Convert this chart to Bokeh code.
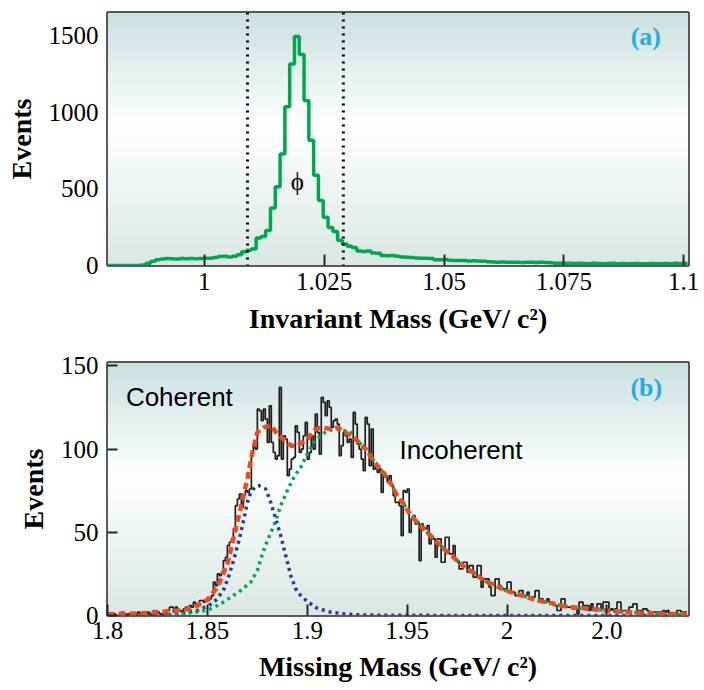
import numpy as np
from bokeh.plotting import figure
from bokeh.layouts import column
from bokeh.models import Span, FixedTicker, Label, Range1d
from bokeh.embed import file_html
from bokeh.resources import INLINE

# ---------------- data: panel (a) invariant mass ----------------
inv_bin_start = 0.9798
inv_bin_width = 0.001
inv_counts = [
    0, 0, 0, 0, 0, 0, 0, 3, 15, 28,
    38, 43, 45, 44, 43, 45, 44, 45, 44, 46,
    48, 47, 52, 58, 60, 56, 60, 70, 90, 100,
    108, 180, 190, 228, 375, 515, 728, 1037, 1315, 1495,
    1378, 1078, 818, 590, 424, 315, 248, 222, 165, 140,
    125, 118,
    95, 92, 94, 82, 80, 66, 64, 66, 60, 55,
    54, 52, 49, 48, 48, 46, 38, 37, 39, 34,
    33, 32, 33, 30, 31, 29, 28, 24, 23, 22,
    23, 22, 21, 22, 20, 22, 21, 20, 21, 19,
    18, 15, 14, 15, 14, 13, 14, 13, 12, 14,
    13, 12, 13, 14, 12, 13, 12, 11, 13, 12,
    12, 13, 12, 11, 13, 12, 14, 13, 14,
]
inv_cuts = [1.009, 1.029]
inv_xticks = [1.0, 1.025, 1.05, 1.075, 1.1]
inv_xlabels = ["1", "1.025", "1.05", "1.075", "1.1"]
inv_yticks = [0, 500, 1000, 1500]

# ---------------- data: panel (b) missing mass ----------------
mm_bin_start = 1.800
mm_bin_width = 0.001
mm_counts = [
    0, 1, 0, 1, 0, 0, 0, 2, 1, 0,
    1, 0, 0, 1, 0, 2, 1, 0, 1, 1,
    2, 1, 0, 3, 1, 2, 1, 0, 2, 1,
    3, 5, 5, 2, 5, 3, 3, 2, 4, 5,
    4, 6, 5, 8, 7, 6, 9, 9, 8, 9,
    9, 10, 12, 20, 18, 25, 24, 26, 33, 35,
    42, 44, 46, 52, 66, 70, 73, 65, 72, 75,
    74, 76, 98, 102, 100, 124, 123, 117, 124, 118,
    104, 126, 104, 98, 94, 96, 137, 94, 108, 106,
    84, 88, 94, 95, 114, 110, 98, 100, 108, 116,
    94, 98, 108, 100, 121, 110, 97, 131, 128, 120,
    129, 125, 113, 117, 118, 115, 96, 102, 110, 108,
    104, 106, 95, 122, 115, 103, 100, 94, 87, 119,
    115, 90, 112, 88, 90, 86, 88, 74, 86, 84,
    80, 84, 78, 72, 68, 68, 66, 48, 75, 74,
    76, 50, 58, 60, 55, 56, 33, 55, 53, 52,
    54, 43, 46, 46, 35, 46, 46, 32, 32, 47,
    47, 37, 37, 42, 33, 33, 28, 28, 32, 32,
    26, 30, 30, 23, 23, 30, 30, 17, 22, 22,
    22, 17, 12, 12, 22, 22, 18, 16, 16, 16,
    20, 20, 14, 14, 12, 12, 15, 15, 12, 12,
    14, 11, 11, 11, 15, 15, 10, 10, 8, 8,
    10, 8, 8, 6, 6, 3, 3, 10, 10, 5,
    5, 5, 5, 4, 4, 1, 8, 8, 6, 6,
    6, 3, 7, 3, 3, 7, 7, 4, 8, 8,
    8, 3, 4, 3, 4, 8, 8, 3, 3, 3,
    3, 5, 5, 7, 7, 3, 3, 3, 4, 4,
    3, 2, 2, 2, 2, 2, 2, 2, 3, 2,
    3, 1, 1, 1, 1, 3, 3, 2, 2, 2,
]

fit_total_x = [1.800, 1.810, 1.820, 1.830, 1.835, 1.840, 1.845, 1.850, 1.855, 1.860,
               1.865, 1.870, 1.8725, 1.875, 1.878, 1.882, 1.885, 1.888, 1.892, 1.895,
               1.900, 1.9042, 1.9075, 1.9117, 1.915, 1.9192, 1.9233, 1.9267, 1.930, 1.9325,
               1.9358, 1.9392, 1.9425, 1.945, 1.9483, 1.9508, 1.9542, 1.960, 1.9642, 1.9683,
               1.9725, 1.9758, 1.980, 1.9842, 1.9883, 1.9942, 1.9992, 2.005, 2.010, 2.015,
               2.020, 2.025, 2.0317, 2.0383, 2.045, 2.0517, 2.0583, 2.065, 2.0717, 2.0783, 2.090]
fit_total_y = [0.8, 1.0, 1.5, 2.5, 3.0, 3.8, 6, 9.5, 17, 31,
               56, 82, 98, 110, 113, 114, 109, 106, 102, 102,
               106, 112, 113, 112, 113, 110, 107, 103, 99, 94,
               89, 84, 78, 72, 67, 62, 57, 50, 45, 40,
               36, 32, 28, 25, 21, 18, 15, 13, 11, 9,
               8, 6.5, 5, 4.4, 3.6, 2.8, 2.1, 1.7, 1.3, 1.0, 0.8]

fit_coh_x = [1.820, 1.830, 1.8367, 1.845, 1.8508, 1.855, 1.8583, 1.8608, 1.8633, 1.866,
             1.8683, 1.870, 1.8717, 1.874, 1.8758, 1.8792, 1.8817, 1.8842, 1.8867, 1.8892,
             1.8917, 1.8942, 1.8967, 1.900, 1.905, 1.9117, 1.9183, 1.925, 1.935, 1.950,
             2.000, 2.090]
fit_coh_y = [0.0, 0.4, 1.0, 3, 6, 10, 16, 24, 34, 46,
             58, 68, 74, 77.5, 78, 76, 68, 58, 48, 36,
             24, 16, 12, 8.4, 4.4, 2, 1, 0.4, 0.2, 0.1,
             0, 0]

fit_inc_x = [1.830, 1.8367, 1.8467, 1.8517, 1.8567, 1.8617, 1.8667, 1.8717, 1.875, 1.8775,
             1.880, 1.8833, 1.8867, 1.890, 1.8933, 1.8967, 1.900, 1.9033, 1.9067, 1.910,
             1.915, 1.9217, 1.9267, 1.930, 1.9325, 1.9358, 1.9392, 1.9425, 1.945, 1.9483,
             1.9508, 1.9542, 1.960, 1.9642, 1.9683, 1.9725, 1.9758, 1.980, 1.9842, 1.9883,
             1.9942, 1.9992, 2.005, 2.010, 2.015, 2.020, 2.025, 2.0317, 2.0383, 2.045,
             2.0517, 2.0583, 2.065, 2.0717, 2.0783, 2.090]
fit_inc_y = [0.5, 1, 2.5, 4, 7, 11, 15, 20, 27, 37,
             45, 54, 66, 75, 83, 89, 97, 104, 108, 111,
             112, 110, 103, 99, 94, 89, 84, 78, 72, 67,
             62, 57, 50, 45, 40, 36, 32, 28, 25, 21,
             18, 15, 13, 11, 9, 8, 6.5, 5, 4.4, 3.6,
             2.8, 2.1, 1.7, 1.3, 1.0, 0.8]

mm_xticks = [1.8, 1.85, 1.9, 1.95, 2.0, 2.05]
mm_xlabels = ["1.8", "1.85", "1.9", "1.95", "2", "2.0"]
mm_yticks = [0, 50, 100, 150]

# ---------------- styling helpers ----------------
SERIF = "Liberation Serif"
SANS = "Liberation Sans"
FRAME = "#262626"
GRAD_STOPS = [(0.0, (219, 232, 227)), (0.55, (255, 255, 255)), (1.0, (203, 225, 224))]


def vertical_gradient(stops, n=256):
    fr = np.linspace(0, 1, n)
    img = np.empty((n, 2), dtype=np.uint32)
    view = img.view(dtype=np.uint8).reshape((n, 2, 4))
    pos = [s[0] for s in stops]
    for c in range(3):
        col = np.interp(fr, pos, [s[1][c] for s in stops]).astype(np.uint8)
        view[:, 0, c] = col
        view[:, 1, c] = col
    view[:, :, 3] = 255
    return img


def add_background(p, xr, yr):
    p.image_rgba(image=[vertical_gradient(GRAD_STOPS)], x=xr[0], y=yr[0],
                 dw=xr[1] - xr[0], dh=yr[1] - yr[0], level="image")


def style(p, xticks, xlabels, yticks, ytick_in, s1, s2):
    p.outline_line_color = FRAME
    p.outline_line_width = 2.5
    p.outline_line_alpha = 1.0
    p.grid.visible = False
    p.background_fill_color = "white"
    p.border_fill_color = "white"
    p.xaxis.ticker = FixedTicker(ticks=xticks)
    p.xaxis.major_label_overrides = {t: s for t, s in zip(xticks, xlabels)}
    p.yaxis.ticker = FixedTicker(ticks=yticks)
    for ax in (p.xaxis[0], p.yaxis[0]):
        ax.axis_line_color = None
        ax.major_tick_out = 0
        ax.major_tick_line_color = FRAME
        ax.major_tick_line_width = 2
        ax.minor_tick_line_color = None
        ax.major_label_text_font = SERIF
        ax.major_label_text_font_size = "25px"
        ax.major_label_text_color = "black"
        ax.axis_label_text_font = SERIF
        ax.axis_label_text_font_style = "bold"
        ax.axis_label_text_font_size = "28px"
        ax.axis_label_text_color = "black"
    p.xaxis[0].major_tick_in = 11
    p.yaxis[0].major_tick_in = ytick_in
    p.xaxis[0].major_label_standoff = s1
    p.xaxis[0].axis_label_standoff = s2
    p.yaxis[0].major_label_standoff = 9
    p.yaxis[0].axis_label_standoff = 9


# ---------------- panel (a) ----------------
xa = (0.9798, 1.101)
ya = (0, 1652)
p1 = figure(width=704, height=345, x_range=Range1d(*xa), y_range=Range1d(*ya),
            output_backend="svg", toolbar_location=None,
            min_border_left=107, min_border_right=16, min_border_top=12, min_border_bottom=80)
add_background(p1, xa, ya)
style(p1, inv_xticks, inv_xlabels, inv_yticks, 0, 7, 10)
p1.xaxis.axis_label = "Invariant Mass (GeV/ c²)"
p1.yaxis.axis_label = "Events"

inv_edges = inv_bin_start + inv_bin_width * np.arange(len(inv_counts) + 1)
p1.step(x=inv_edges, y=list(inv_counts) + [inv_counts[-1]], mode="after",
        line_color="#00a650", line_width=3.5)
for c in inv_cuts:
    p1.add_layout(Span(location=c, dimension="height", line_color="#000000",
                       line_width=3, line_dash="2 5"))
p1.add_layout(Label(x=1.0194, y=549, text="ϕ", text_font=SERIF, text_font_size="25px",
                    text_align="center", text_baseline="middle", text_color="black"))
p1.add_layout(Label(x=1.0921, y=1402, text="(a)", text_font=SERIF, text_font_size="26px",
                    text_font_style="bold", text_align="center", text_color="#29abe2"))

# ---------------- panel (b) ----------------
xb = (1.8, 2.0908)
yb = (0, 152)
p2 = figure(width=704, height=345, x_range=Range1d(*xb), y_range=Range1d(*yb),
            output_backend="svg", toolbar_location=None,
            min_border_left=107, min_border_right=16, min_border_top=17, min_border_bottom=75)
add_background(p2, xb, yb)
style(p2, mm_xticks, mm_xlabels, mm_yticks, 10, 6, 9)
p2.xaxis.axis_label = "Missing Mass (GeV/ c²)"
p2.yaxis.axis_label = "Events"

mm_edges = mm_bin_start + mm_bin_width * np.arange(len(mm_counts) + 1)
p2.step(x=mm_edges, y=list(mm_counts) + [mm_counts[-1]], mode="after",
        line_color="#1e1e1e", line_width=1.7)
p2.line(fit_coh_x, fit_coh_y, line_color="#2b3990", line_width=3.5, line_dash="3 4")
p2.line(fit_inc_x, fit_inc_y, line_color="#00a650", line_width=3.5, line_dash="3 4")
p2.line(fit_total_x, fit_total_y, line_color="#f04a23", line_width=4.5, line_dash="7 4")

p2.add_layout(Label(x=1.8092, y=122.2, text="Coherent", text_font=SANS, text_font_size="26px",
                    text_color="black"))
p2.add_layout(Label(x=1.9462, y=90.4, text="Incoherent", text_font=SANS, text_font_size="26px",
                    text_color="black"))
p2.add_layout(Label(x=2.0697, y=128, text="(b)", text_font=SERIF, text_font_size="26px",
                    text_font_style="bold", text_align="center", text_color="#29abe2"))

layout = column(p1, p2, spacing=0)
open("out.html", "w").write(file_html(layout, INLINE))
